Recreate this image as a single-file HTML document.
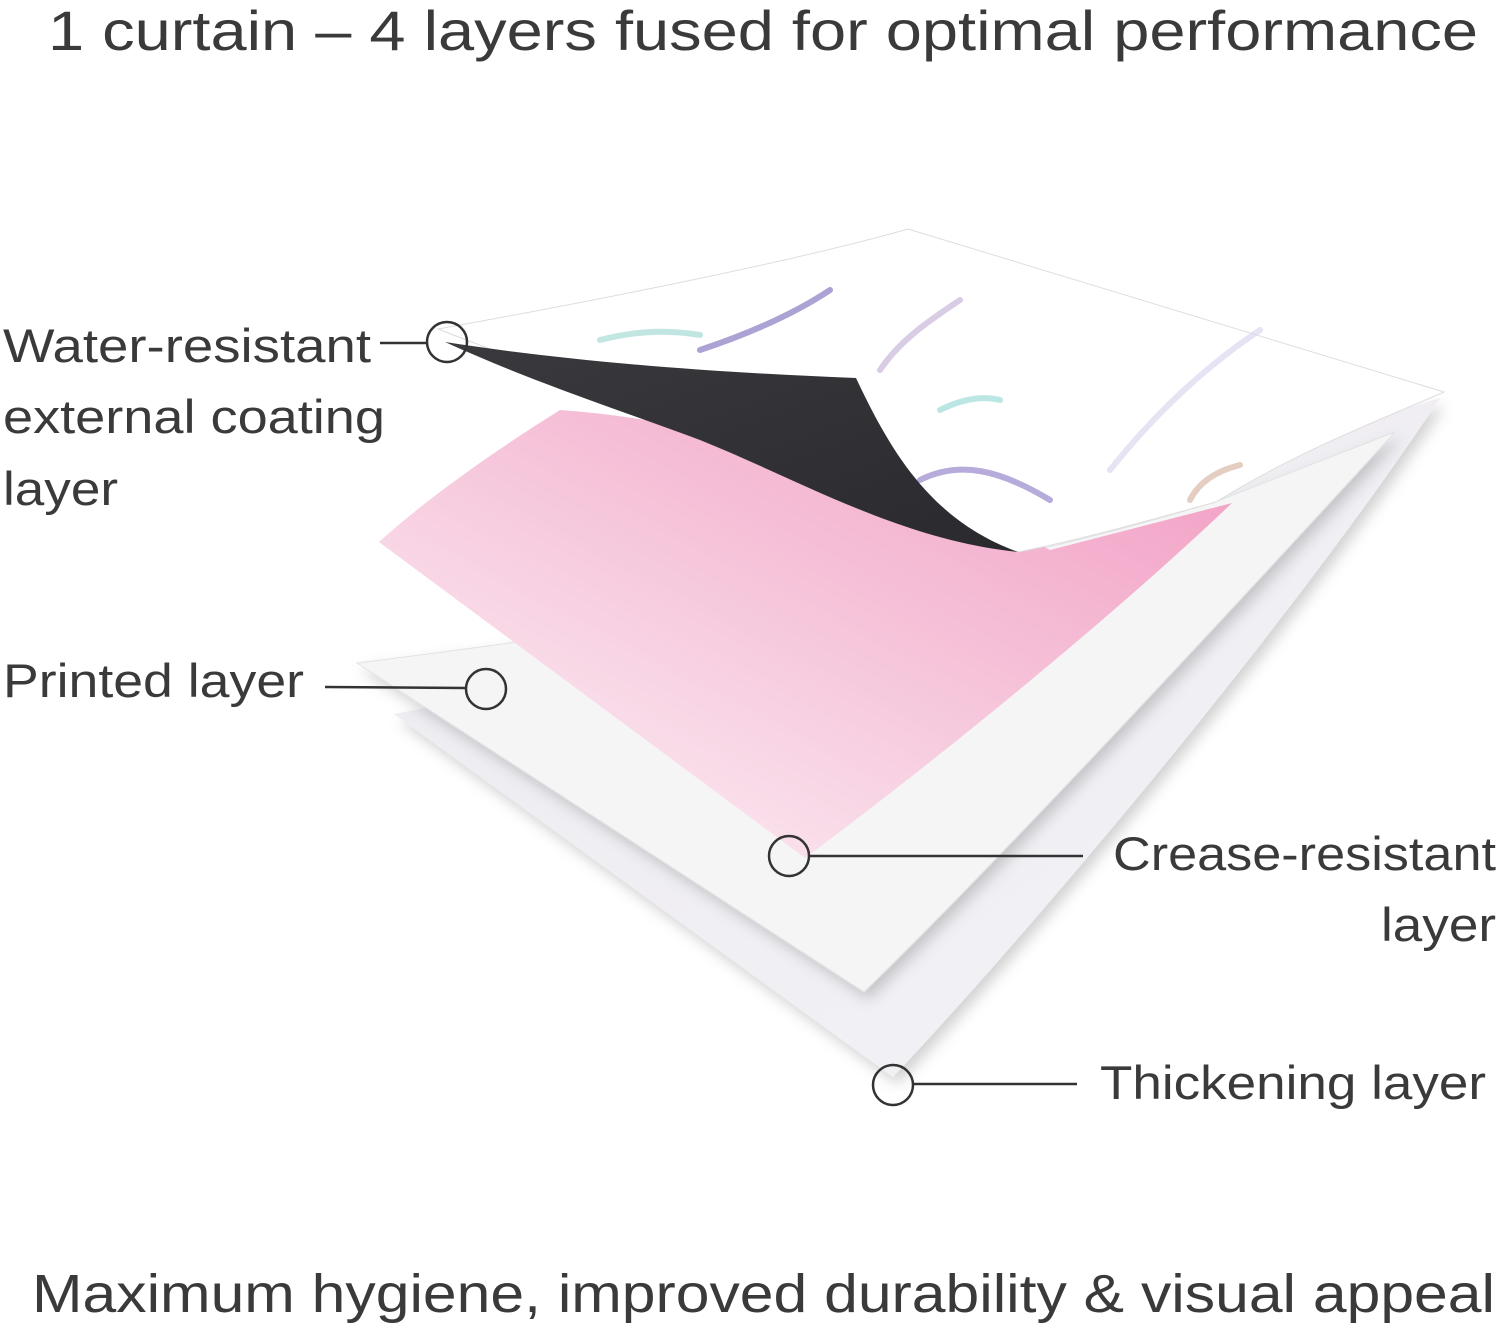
<!DOCTYPE html>
<html><head><meta charset="utf-8"><style>
html,body{margin:0;padding:0;background:#fff;}
svg{display:block;}
text{font-family:"Liberation Sans",sans-serif;fill:#3a3a3a;}
</style></head><body>
<svg width="1500" height="1328" viewBox="0 0 1500 1328" xmlns="http://www.w3.org/2000/svg">
<defs>
<linearGradient id="pk" x1="0" y1="1" x2="1" y2="0">
<stop offset="0" stop-color="#fef6fa"/><stop offset="0.5" stop-color="#f6c8dc"/><stop offset="1" stop-color="#f29bc2"/>
</linearGradient>
<linearGradient id="th" x1="0" y1="0" x2="1" y2="1">
<stop offset="0" stop-color="#ecebf0"/><stop offset="1" stop-color="#f3f2f6"/>
</linearGradient>
<linearGradient id="bk" x1="0" y1="0" x2="1" y2="1">
<stop offset="0" stop-color="#3a3a3e"/><stop offset="1" stop-color="#2a2a2e"/>
</linearGradient>
<filter id="sh" x="-10%" y="-10%" width="120%" height="120%"><feDropShadow dx="5" dy="7" stdDeviation="7" flood-color="#000" flood-opacity="0.18"/></filter>
</defs>
<text x="763" y="50" font-size="56" text-anchor="middle" textLength="1430" lengthAdjust="spacingAndGlyphs">1 curtain – 4 layers fused for optimal performance</text>

<!-- thickening layer -->
<path d="M394,714 L893,1077 C1050,910 1300,610 1440,398 L1300,440 C1100,560 800,640 394,714 Z" fill="url(#th)" filter="url(#sh)"/>
<!-- crease layer -->
<path d="M357,663 L864,992 C1000,860 1250,590 1395,432 L1220,500 C1000,570 700,620 357,663 Z" fill="#f5f5f5" filter="url(#sh)" stroke="#e2e2e2"/>
<!-- pink layer -->
<path d="M379,542 L805,858 C950,750 1120,610 1232,503 L1050,550 C900,470 700,420 560,410 C480,460 420,505 379,542 Z" fill="url(#pk)"/>
<!-- top printed sheet -->
<path d="M438,329 C600,300 800,260 908,229 L1444,392 C1380,420 1300,450 1216,502 C1150,520 1080,540 1018,552 Z" fill="#fff" stroke="#ddd"/>
<!-- floral hints -->
<g opacity="0.7" fill="none" stroke-width="6" stroke-linecap="round">
<path d="M1110,470 C1150,420 1200,370 1260,330" stroke="#dcd8ef"/>
<path d="M920,480 C960,460 1000,470 1050,500" stroke="#9a88cc"/>
<path d="M700,350 C760,330 800,310 830,290" stroke="#8a7cc2"/>
<path d="M880,370 C900,340 930,320 960,300" stroke="#c9b6da"/>
<path d="M940,410 C960,400 980,395 1000,400" stroke="#9fdcd8"/>
<path d="M1190,500 C1200,480 1220,470 1240,465" stroke="#d9b9a8"/>
<path d="M600,340 C640,330 670,330 700,335" stroke="#a8dcd6"/>
</g>
<!-- black curl -->
<path d="M445,342 C560,360 700,372 856,378 C890,450 930,520 1018,552 C900,540 800,480 700,440 C620,410 540,385 445,342 Z" fill="url(#bk)"/>

<!-- callouts -->
<g stroke="#333" stroke-width="2.5" fill="none">
<line x1="380" y1="343" x2="427" y2="343"/>
<circle cx="447" cy="342" r="20"/>
<line x1="325" y1="687" x2="466" y2="688"/>
<circle cx="486" cy="689" r="20"/>
<circle cx="789" cy="856" r="20"/>
<line x1="809" y1="856" x2="1083" y2="856"/>
<circle cx="893" cy="1085" r="20"/>
<line x1="913" y1="1084" x2="1077" y2="1084"/>
</g>
<g font-size="47">
<text x="3" y="362" textLength="368" lengthAdjust="spacingAndGlyphs">Water-resistant</text>
<text x="3" y="433" textLength="382" lengthAdjust="spacingAndGlyphs">external coating</text>
<text x="3" y="505" textLength="115" lengthAdjust="spacingAndGlyphs">layer</text>
<text x="3" y="697" textLength="301" lengthAdjust="spacingAndGlyphs">Printed layer</text>
<text x="1113" y="870" textLength="383" lengthAdjust="spacingAndGlyphs">Crease-resistant</text>
<text x="1381" y="941" textLength="115" lengthAdjust="spacingAndGlyphs">layer</text>
<text x="1100" y="1099" textLength="386" lengthAdjust="spacingAndGlyphs">Thickening layer</text>
</g>
<text x="32" y="1312" font-size="54" textLength="1463" lengthAdjust="spacingAndGlyphs">Maximum hygiene, improved durability &amp; visual appeal</text>
</svg>
</body></html>
